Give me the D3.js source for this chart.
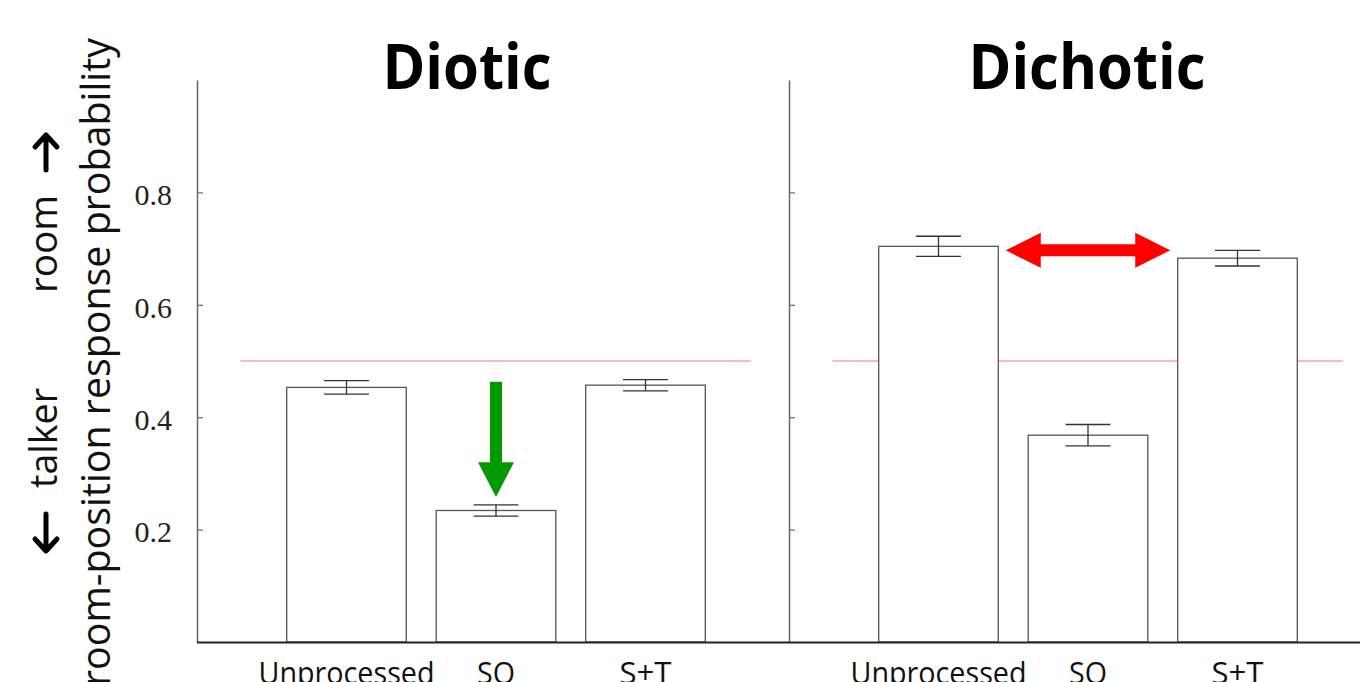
<!DOCTYPE html>
<html>
<head>
<meta charset="utf-8">
<script src="https://cdn.jsdelivr.net/npm/d3@7"></script>
<style>
  html, body { margin: 0; padding: 0; background: #fff; }
  svg { display: block; }
</style>
</head>
<body>
<div id="chart"></div>
<script>
const categories = ["Unprocessed", "SO", "S+T"]
const panelTitles = ["Diotic", "Dichotic"]
const dioticMeans = [0.453, 0.234, 0.457]
const dioticErrors = [0.012, 0.010, 0.010]
const dichoticMeans = [0.704, 0.368, 0.683]
const dichoticErrors = [0.018, 0.019, 0.014]
const yTicks = [0.2, 0.4, 0.6, 0.8]
const chanceLevel = 0.5

const width = 1360
const height = 682

const svg = d3.select("#chart").append("svg")
  .attr("width", width)
  .attr("height", height)

const y = d3.scaleLinear().domain([0, 1]).range([642, 80])

const panels = [
  { title: panelTitles[0], left: 197, means: dioticMeans, errors: dioticErrors, labels: true, titleX: 467 },
  { title: panelTitles[1], left: 789, means: dichoticMeans, errors: dichoticErrors, labels: false, titleX: 1087 }
]

const sans = "'Open Sans', 'Noto Sans', sans-serif"

panels.forEach(p => {
  const x = d3.scaleLinear().domain([0, 4]).range([p.left, p.left + 598])
  const g = svg.append("g")

  // axis with inward ticks
  const axis = d3.axisLeft(y)
    .tickValues(yTicks)
    .tickSizeInner(-6)
    .tickSizeOuter(0)
    .tickPadding(25)
    .tickFormat(p.labels ? d3.format(".1f") : "")
  const ag = g.append("g")
    .attr("transform", `translate(${p.left},0)`)
    .call(axis)
  ag.select(".domain").attr("stroke", "#666").attr("stroke-width", 1.5)
  ag.selectAll(".tick line").attr("stroke", "#666").attr("stroke-width", 1.2)
  ag.selectAll(".tick text")
    .attr("dy", "0.41em")
    .attr("fill", "#222")
    .style("font-family", "'Liberation Serif', 'Times New Roman', serif")
    .style("font-size", "30px")

  // chance line
  g.append("line")
    .attr("x1", x(0.29)).attr("x2", x(3.7))
    .attr("y1", y(chanceLevel)).attr("y2", y(chanceLevel))
    .attr("stroke", "#ff5a5a")
    .attr("stroke-opacity", 0.85)
    .attr("stroke-width", 1.1)

  const data = categories.map((c, i) => ({ c, i: i + 1, m: p.means[i], e: p.errors[i] }))

  g.selectAll("rect.bar")
    .data(data)
    .join("rect")
    .attr("class", "bar")
    .attr("x", d => x(d.i - 0.4))
    .attr("width", x(0.8) - x(0))
    .attr("y", d => y(d.m))
    .attr("height", d => y(0) - y(d.m))
    .attr("fill", "#fff")
    .attr("stroke", "#555")
    .attr("stroke-width", 1.3)

  // error bars
  const eg = g.selectAll("g.err").data(data).join("g").attr("class", "err")
    .attr("stroke", "#333").attr("stroke-width", 1.3)
  eg.append("line")
    .attr("x1", d => x(d.i)).attr("x2", d => x(d.i))
    .attr("y1", d => y(d.m + d.e)).attr("y2", d => y(d.m - d.e))
  eg.append("line")
    .attr("x1", d => x(d.i - 0.15)).attr("x2", d => x(d.i + 0.15))
    .attr("y1", d => y(d.m + d.e)).attr("y2", d => y(d.m + d.e))
  eg.append("line")
    .attr("x1", d => x(d.i - 0.15)).attr("x2", d => x(d.i + 0.15))
    .attr("y1", d => y(d.m - d.e)).attr("y2", d => y(d.m - d.e))

  // category labels
  const labelLengths = [176, 38, 52]
  g.selectAll("text.cat")
    .data(data)
    .join("text")
    .attr("class", "cat")
    .attr("x", d => x(d.i))
    .attr("y", 684)
    .attr("text-anchor", "middle")
    .attr("textLength", (d, i) => labelLengths[i])
    .attr("lengthAdjust", "spacingAndGlyphs")
    .attr("fill", "#111")
    .style("font-family", sans)
    .style("font-size", "31px")
    .text(d => d.c)

  // title
  g.append("text")
    .attr("x", p.titleX)
    .attr("y", 89)
    .attr("text-anchor", "middle")
    .attr("textLength", p.title === "Diotic" ? 169 : 237)
    .attr("lengthAdjust", "spacingAndGlyphs")
    .attr("fill", "#000")
    .style("font-family", sans)
    .style("font-weight", "700")
    .style("font-size", "62px")
    .text(p.title)

  p.x = x
})

// baseline
svg.append("line")
  .attr("x1", 197).attr("x2", width)
  .attr("y1", 642.5).attr("y2", 642.5)
  .attr("stroke", "#222")
  .attr("stroke-width", 1.8)

// green arrow over SO (diotic)
{
  const x = panels[0].x
  const cx = x(2)
  const top = y(0.463), base = y(0.32), tip = y(0.258)
  svg.append("path")
    .attr("d", `M${cx - 6},${top} L${cx + 6},${top} L${cx + 6},${base} L${cx + 18},${base} L${cx},${tip} L${cx - 18},${base} L${cx - 6},${base} Z`)
    .attr("fill", "#009900")
}

// red double arrow (dichotic)
{
  const x = panels[1].x
  const cy = y(0.697)
  const l = x(1.45), r = x(2.55)
  const hl = 35, hh = 17.5, sh = 6
  svg.append("path")
    .attr("d", `M${l},${cy} L${l + hl},${cy - hh} L${l + hl},${cy - sh} L${r - hl},${cy - sh} L${r - hl},${cy - hh} L${r},${cy} L${r - hl},${cy + hh} L${r - hl},${cy + sh} L${l + hl},${cy + sh} L${l + hl},${cy + hh} Z`)
    .attr("fill", "#ff0000")
}

// y axis labels
svg.append("text")
  .attr("transform", "translate(110,362) rotate(-90)")
  .attr("text-anchor", "middle")
  .attr("textLength", 648)
  .attr("lengthAdjust", "spacingAndGlyphs")
  .attr("fill", "#111")
  .style("font-family", sans)
  .style("font-size", "40px")
  .text("room-position response probability")

svg.append("text")
  .attr("transform", "translate(57,438) rotate(-90)")
  .attr("text-anchor", "middle")
  .attr("textLength", 100)
  .attr("lengthAdjust", "spacingAndGlyphs")
  .attr("fill", "#111")
  .style("font-family", sans)
  .style("font-size", "38px")
  .text("talker")

svg.append("text")
  .attr("transform", "translate(57,244) rotate(-90)")
  .attr("text-anchor", "middle")
  .attr("textLength", 98)
  .attr("lengthAdjust", "spacingAndGlyphs")
  .attr("fill", "#111")
  .style("font-family", sans)
  .style("font-size", "38px")
  .text("room")

// small direction arrows beside the labels
const arrowG = svg.append("g")
  .attr("fill", "none")
  .attr("stroke", "#000")
  .attr("stroke-width", 5)
  .attr("stroke-linecap", "round")
  .attr("stroke-linejoin", "round")
arrowG.append("path").attr("d", "M46,514 L46,550 M35,539 L46,551 L57,539")
arrowG.append("path").attr("d", "M46,170 L46,136 M35,147 L46,135 L57,147")
</script>
</body>
</html>
